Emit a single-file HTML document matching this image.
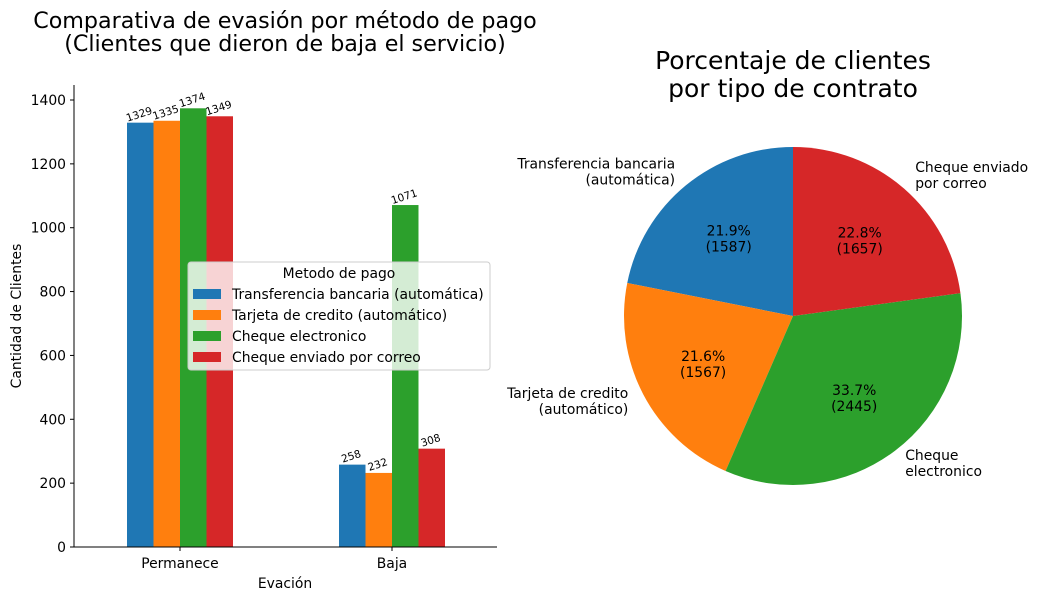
<!DOCTYPE html>
<html><head><meta charset="utf-8">
<style>
html,body{margin:0;padding:0;background:#fff;}
svg{display:block;font-family:"DejaVu Sans","Liberation Sans",sans-serif;}
</style></head>
<body>
<svg id="c" width="1038" height="600" viewBox="0 0 1038 600">
<text x="285" y="28" font-size="22.2" text-anchor="middle" fill="#000">Comparativa de evasión por método de pago</text>
<text x="285" y="51" font-size="22.2" text-anchor="middle" fill="#000">(Clientes que dieron de baja el servicio)</text>
<text x="793" y="69" font-size="25" text-anchor="middle" fill="#000">Porcentaje de clientes</text>
<text x="793" y="97" font-size="25" text-anchor="middle" fill="#000">por tipo de contrato</text>
<g id="bars"></g>
<g id="axes"></g>
<g id="pie"></g>
<g id="legend"></g>
</svg>
<script>
const categories = ["Permanece", "Baja"];
const seriesNames = ["Transferencia bancaria (automática)", "Tarjeta de credito (automático)", "Cheque electronico", "Cheque enviado por correo"];
const transferencia = [1329, 258];
const tarjeta = [1335, 232];
const chequeElectronico = [1374, 1071];
const chequeCorreo = [1349, 308];
const yTicks = [0, 200, 400, 600, 800, 1000, 1200, 1400];
const pieLabels = ["Transferencia bancaria\n(automática)", "Tarjeta de credito\n(automático)", "Cheque\nelectronico", "Cheque enviado\npor correo"];
const pieValues = [1587, 1567, 2445, 1657];
const colors = ["#1f77b4", "#ff7f0e", "#2ca02c", "#d62728"];

const NS = "http://www.w3.org/2000/svg";
function mk(tag, attrs, parent, txt) {
  const e = document.createElementNS(NS, tag);
  for (const k in attrs) e.setAttribute(k, attrs[k]);
  if (txt !== undefined) e.textContent = txt;
  parent.appendChild(e);
  return e;
}
const FS = 13.9;
const X0 = 74, X1 = 497, Y0 = 547, YTOP = 85;
const yMax = 1400, yPx1400 = 100;
function yS(v) { return Y0 - v * (Y0 - yPx1400) / yMax; }
const groupCenters = [180, 392];
function xS(i) { return groupCenters[i]; }
const barW = 26.5;
const series = [transferencia, tarjeta, chequeElectronico, chequeCorreo];

const gB = document.getElementById('bars');
series.forEach((s, si) => {
  s.forEach((v, ci) => {
    const x = xS(ci) + (si - 2) * barW;
    const r = mk('rect', {x: x, y: yS(v), width: barW, height: Y0 - yS(v), fill: colors[si]}, gB);
    
    
    const cx = x + barW / 2, cy = yS(v) - 5;
    const t = mk('text', {x: cx, y: cy, 'font-size': 10.5, 'text-anchor': 'middle', fill: '#000', transform: 'rotate(-18 ' + cx + ' ' + cy + ')'}, gB, String(v));
    
    
  });
});

const gA = document.getElementById('axes');
mk('line', {x1: X0, y1: YTOP, x2: X0, y2: Y0, stroke: '#000', 'stroke-width': 1}, gA);
mk('line', {x1: X0, y1: Y0, x2: X1, y2: Y0, stroke: '#000', 'stroke-width': 1}, gA);
yTicks.forEach(v => {
  mk('line', {x1: X0 - 4, y1: yS(v), x2: X0, y2: yS(v), stroke: '#000'}, gA);
  const t = mk('text', {x: X0 - 8, y: yS(v) + 5, 'font-size': FS, 'text-anchor': 'end'}, gA, String(v));
  
  
});
categories.forEach((c, i) => {
  mk('line', {x1: xS(i), y1: Y0, x2: xS(i), y2: Y0 + 4, stroke: '#000'}, gA);
  const t = mk('text', {x: xS(i), y: Y0 + 21, 'font-size': FS, 'text-anchor': 'middle'}, gA, c);
  
  
});
const xt = mk('text', {x: 285, y: 588, 'font-size': FS, 'text-anchor': 'middle'}, gA, 'Evación');


const yt = mk('text', {x: 21, y: 316, 'font-size': FS, 'text-anchor': 'middle', transform: 'rotate(-90 21 316)'}, gA, 'Cantidad de Clientes');



const gL = document.getElementById('legend');
mk('rect', {x: 188, y: 262, width: 302, height: 108, rx: 3, fill: 'rgba(255,255,255,0.8)', stroke: '#ccc'}, gL);
mk('text', {x: 339, y: 278, 'font-size': FS, 'text-anchor': 'middle'}, gL, 'Metodo de pago');
seriesNames.forEach((n, i) => {
  const y = 294 + i * 21;
  const sw = mk('rect', {x: 193, y: y - 5, width: 28, height: 10, fill: colors[i]}, gL);
  
  
  const t = mk('text', {x: 232, y: y + 5, 'font-size': FS}, gL, n);
  
  
});

const gP = document.getElementById('pie');
const PCX = 793, PCY = 316, R = 169;
const total = pieValues.reduce((a, b) => a + b, 0);
let ang = 90;
pieValues.forEach((v, i) => {
  const sweep = v / total * 360;
  const a0 = ang * Math.PI / 180, a1 = (ang + sweep) * Math.PI / 180;
  const x0 = PCX + R * Math.cos(a0), y0 = PCY - R * Math.sin(a0);
  const x1 = PCX + R * Math.cos(a1), y1 = PCY - R * Math.sin(a1);
  const large = sweep > 180 ? 1 : 0;
  const p = mk('path', {d: `M${PCX},${PCY} L${x0},${y0} A${R},${R} 0 ${large} 0 ${x1},${y1} Z`, fill: colors[i]}, gP);
  
  
  const mid = (ang + sweep / 2) * Math.PI / 180;
  const px = PCX + 0.6 * R * Math.cos(mid), py = PCY - 0.6 * R * Math.sin(mid);
  const pct = (v / total * 100).toFixed(1) + '%';
  const t1 = mk('text', {x: px, y: py - 2, 'font-size': FS, 'text-anchor': 'middle'}, gP, pct);
  
  
  const t2 = mk('text', {x: px, y: py + 14, 'font-size': FS, 'text-anchor': 'middle'}, gP, '(' + v + ')');
  
  
  const lx = PCX + 1.1 * R * Math.cos(mid), ly = PCY - 1.1 * R * Math.sin(mid);
  const anchor = Math.cos(mid) < 0 ? 'end' : 'start';
  const lines = pieLabels[i].split('\n');
  const base = ly - (lines.length - 1) * 8 + 4;
  lines.forEach((ln, k) => {
    const t = mk('text', {x: lx, y: base + k * 16, 'font-size': FS, 'text-anchor': anchor}, gP, ln);
    
    
  });
  ang += sweep;
});
</script>
</body></html>
